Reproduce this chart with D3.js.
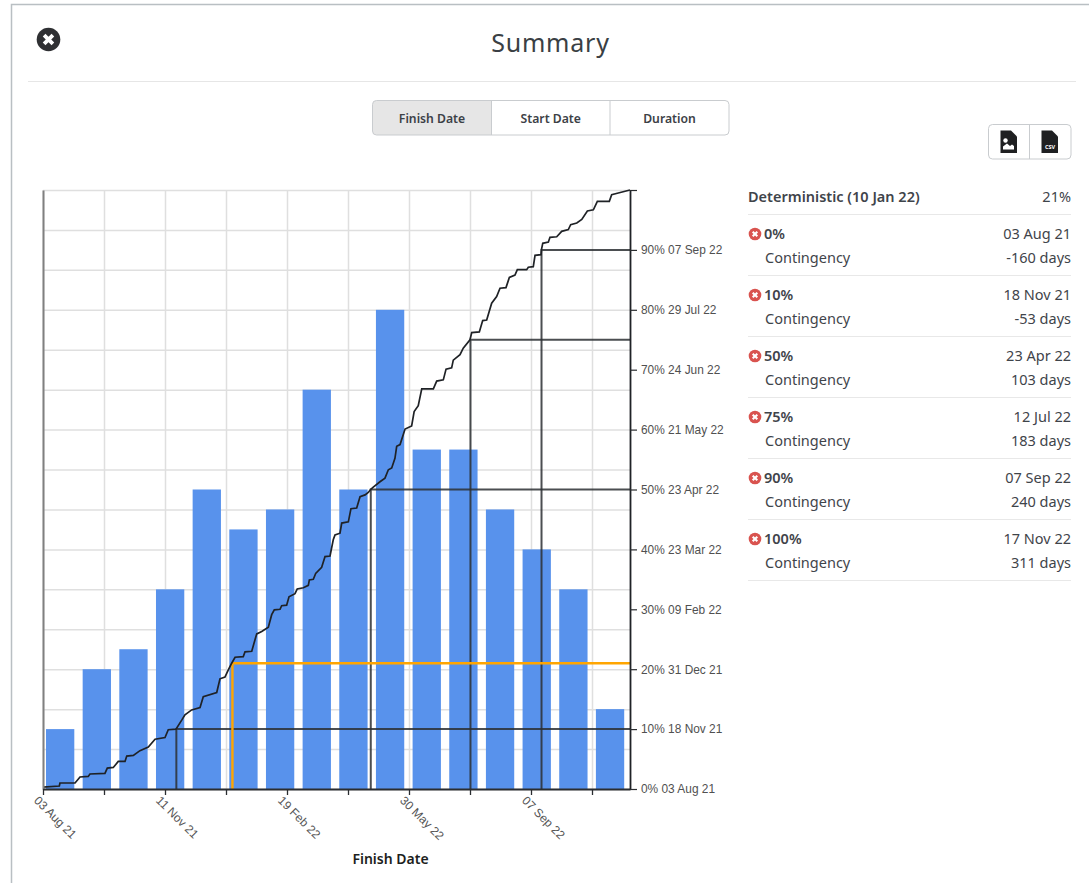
<!DOCTYPE html>
<html><head><meta charset="utf-8">
<script src="https://cdn.jsdelivr.net/npm/d3@7/dist/d3.min.js"></script>
<style>
html,body{margin:0;padding:0;background:#fff}
svg{display:block}
text{font-family:"Noto Sans",sans-serif}
</style></head><body><div id="chart"></div>
<script>
const histValues=[1.5,3,3.5,5,7.5,6.5,7,10,7.5,12,8.5,8.5,7,6,5,2];
const xTickLabels=["03 Aug 21","","11 Nov 21","","19 Feb 22","","30 May 22","","07 Sep 22",""];
const pctTicks=[0,10,20,30,40,50,60,70,80,90,100];
const pctDates=["03 Aug 21","18 Nov 21","31 Dec 21","09 Feb 22","23 Mar 22","23 Apr 22","21 May 22","24 Jun 22","29 Jul 22","07 Sep 22",""];
const totalDays=471;
const cdfDays=[0,13.1,13.6,25.7,29.7,36.3,37.7,49.7,51.6,56.4,60.4,65.8,67.2,72.5,77.8,84.5,89.9,97.9,100.5,106.7,111.3,113.9,119.3,126,128.6,139.4,142,146,148.7,151.4,154.1,160.7,162.1,167.5,170.1,171.5,175.5,180.8,183.5,185.6,190.2,191.5,195.5,197.4,202.2,204,208.9,212.9,213.7,216.9,218.8,223.6,226.3,230.3,232.9,234.3,238.3,239.7,245,247.1,251.7,254.4,258.4,261,262.8,265,270.4,274.4,277.1,279.8,282.4,283.8,286.5,290.5,295.8,297.8,301.1,303.9,313.2,315.9,321.2,323.4,327.9,329.2,334.6,337.2,342.6,344,350.1,352.8,356,360,364,366.7,371.5,374.2,378.7,380.6,388.1,389.4,393.4,394.8,399.6,400,401,405.5,406.8,412.2,416.2,421.5,423.4,428.3,432.3,436.8,441.6,444.8,454.4,456.3,461.6,471];
const cdfPct=[0.3,0.5,1,1,2,2.1,2.5,2.6,3.5,3.6,4.6,4.6,5.5,5.6,6.4,7,8.3,8.6,9.9,10,11.5,12.4,13.2,13.6,15.4,16.1,18.4,18.7,19.9,21,22,22.1,22.9,23,24.9,25.9,26.3,27,29.1,29.9,30,30.6,30.7,32.1,32.6,33.4,33.6,34,34.9,35,36,37,38.8,38.9,41.6,42.4,42.7,44.4,44.6,46.8,46.9,48.8,49.1,49.5,50,50.4,51.3,51.9,53.3,53.6,55.2,57.2,57.5,60.1,60.6,63,64,66.8,66.8,68.1,68.3,70.1,70.3,71.6,72.5,73.6,75,76.2,76.3,78.2,78.3,81.1,82.2,83.6,83.7,85.4,85.8,86.7,86.7,87.1,87.2,89.1,89.2,90.1,91.1,91.3,92.1,92.2,93.1,93.4,94.2,94.5,95.1,96.5,96.7,98.1,98.1,99.2,99.5,100];
const markerPct=[10,50,75,90];
const markerDays=[107,263,343,400];
const deterministicPct=21;
const deterministicDay=152;
const rowPct=["0%","10%","50%","75%","90%","100%"];
const rowDates=["03 Aug 21","18 Nov 21","23 Apr 22","12 Jul 22","07 Sep 22","17 Nov 22"];
const rowCont=["-160 days","-53 days","103 days","183 days","240 days","311 days"];
const tabs=["Finish Date","Start Date","Duration"];

const svg=d3.select("#chart").append("svg").attr("width",1089).attr("height",883);
const L=43,R=630,T=190,B=789;
const ink="#3f444a";

// frame
svg.append("path").attr("d","M11.5 883V4.5H1089").attr("fill","none").attr("stroke","#b9bfc3").attr("stroke-width",1.5);
svg.append("line").attr("x1",28).attr("x2",1076).attr("y1",81.5).attr("y2",81.5).attr("stroke","#e6e6e6").attr("stroke-width",1.2);

// close icon
const cross=(g,cx,cy,s,w)=>g.append("path").attr("d",`M${cx-s} ${cy-s}L${cx+s} ${cy+s}M${cx+s} ${cy-s}L${cx-s} ${cy+s}`).attr("stroke","#fff").attr("stroke-width",w).attr("fill","none");
svg.append("circle").attr("cx",48.5).attr("cy",39.5).attr("r",11.8).attr("fill","#2f3033");
cross(svg,48.5,39.5,4.4,3.8);

svg.append("text").attr("x",550.5).attr("y",52).attr("text-anchor","middle").attr("font-size",25).attr("letter-spacing",0.8).attr("fill","#3a3f44").text("Summary");

// tabs
const tabEdges=[372.5,491.5,610,729];
svg.append("path").attr("d","M491.5 100.5H376.5a4 4 0 0 0-4 4V131a4 4 0 0 0 4 4H491.5Z").attr("fill","#e6e6e6");
svg.append("rect").attr("x",372.5).attr("y",100.5).attr("width",356.5).attr("height",34.5).attr("rx",4).attr("fill","none").attr("stroke","#c9cccf");
tabEdges.slice(1,3).forEach(x=>svg.append("line").attr("x1",x).attr("x2",x).attr("y1",100.5).attr("y2",135).attr("stroke","#c9cccf"));
tabs.forEach((t,i)=>svg.append("text").attr("x",(tabEdges[i]+tabEdges[i+1])/2).attr("y",122.5).attr("text-anchor","middle").attr("font-size",12.2).attr("font-weight",600).attr("fill","#3c4146").text(t));

// export buttons
svg.append("rect").attr("x",988.5).attr("y",124.5).attr("width",82.5).attr("height",34.5).attr("rx",4).attr("fill","#fff").attr("stroke","#c9cccf");
svg.append("line").attr("x1",1029.5).attr("x2",1029.5).attr("y1",124.5).attr("y2",159).attr("stroke","#c9cccf");
const filePath=x=>`M${x} 130.5h10.5l6 6v16.5h-16.5Z`;
svg.append("path").attr("d",filePath(1000.5)).attr("fill","#1f2022");
svg.append("path").attr("d","M1003 149.5h11v-3.5l-2-1.5-2 1.5-3-2.5-4 3Z").attr("fill","#fff");
svg.append("circle").attr("cx",1005.5).attr("cy",140.5).attr("r",2.2).attr("fill","#fff");
svg.append("path").attr("d",filePath(1041.5)).attr("fill","#1f2022");
svg.append("text").attr("x",1050).attr("y",148.5).attr("text-anchor","middle").attr("font-size",5.5).attr("font-weight",700).attr("fill","#fff").text("CSV");

// scales
const xDays=d3.scaleLinear().domain([0,totalDays]).range([L,R]);
const xTick=d3.scaleLinear().domain([0,(R-L)/61]).range([L,R]);
const xBand=d3.scaleBand().domain(d3.range(histValues.length)).range([46,624.2]).paddingInner(0.228);
const yHist=d3.scaleLinear().domain([0,15]).range([B,T]);
const yPct=d3.scaleLinear().domain([0,100]).range([B,T]);

// grid
const gridX=svg.append("g").attr("transform",`translate(0,${B})`).call(d3.axisBottom(xTick).tickValues(d3.range(10)).tickSize(-(B-T)).tickFormat(""));
gridX.select(".domain").remove();
gridX.selectAll("line").attr("stroke","#dfdfdf").attr("stroke-width",1.5);
const gridY=svg.append("g").attr("transform",`translate(${L},0)`).call(d3.axisLeft(yHist).tickValues(d3.range(16)).tickSize(-(R-L)).tickFormat(""));
gridY.select(".domain").remove();
gridY.selectAll("line").attr("stroke","#dfdfdf").attr("stroke-width",1.5);

// bars
svg.append("g").selectAll("rect").data(histValues).join("rect")
 .attr("x",(d,i)=>xBand(i)).attr("width",xBand.bandwidth())
 .attr("y",d=>yHist(d)).attr("height",d=>B-yHist(d)).attr("fill","#5892ec");

// markers
const markers=svg.append("g");
markerPct.forEach((p,i)=>{
 markers.append("path").attr("d",`M${xDays(markerDays[i])} ${B}V${yPct(p)}H${R}`).attr("fill","none").attr("stroke","#2b2f33").attr("stroke-opacity",0.85).attr("stroke-width",2);
});
markers.append("path").attr("d",`M${xDays(deterministicDay)} ${B}V${yPct(deterministicPct)}H${R}`).attr("fill","none").attr("stroke","#ffa500").attr("stroke-width",2.4);

// cdf
const line=d3.line().x(d=>xDays(d[0])).y(d=>yPct(d[1]));
svg.append("path").datum(cdfDays.map((d,i)=>[d,cdfPct[i]])).attr("d",line).attr("fill","none").attr("stroke","#1f2226").attr("stroke-width",1.7);

// axes
const axL=svg.append("g").attr("transform",`translate(${L},0)`).call(d3.axisLeft(yHist).tickValues([]).tickSizeOuter(0));
axL.select(".domain").attr("stroke","#808080").attr("stroke-width",2);
const axB=svg.append("g").attr("transform",`translate(0,${B})`).call(d3.axisBottom(xTick).tickValues(d3.range(10)).tickSize(6).tickSizeOuter(0).tickFormat(i=>xTickLabels[i]));
axB.select(".domain").attr("stroke","#2a2d30").attr("stroke-width",2);
axB.selectAll("line").attr("stroke","#2a2d30").attr("stroke-width",1.3);
axB.selectAll("text").style("font-family","'Liberation Sans',sans-serif").attr("font-size",12).attr("fill","#555")
 .attr("text-anchor","start").attr("transform","translate(-1,3) rotate(45)").attr("dx",0).attr("dy",7).attr("y",6);
const axR=svg.append("g").attr("transform",`translate(${R},0)`).call(d3.axisRight(yPct).tickValues(pctTicks).tickSize(7).tickSizeOuter(0).tickPadding(4).tickFormat((d,i)=>pctDates[i]?`${d}% ${pctDates[i]}`:""));
axR.select(".domain").attr("stroke","#1f2226").attr("stroke-width",1.8);
axR.selectAll("line").attr("stroke","#2a2d30").attr("stroke-width",1.2);
axR.selectAll("text").style("font-family","'Liberation Sans',sans-serif").attr("font-size",11.9).attr("fill","#505050");

svg.append("text").attr("x",390.5).attr("y",864).attr("text-anchor","middle").attr("font-size",14).attr("font-weight",600).attr("fill","#1c1e20").text("Finish Date");

// table
const PL=748,PR=1071;
svg.append("text").attr("x",PL).attr("y",202).attr("font-size",14.5).attr("font-weight",600).attr("fill",ink).text("Deterministic (10 Jan 22)");
svg.append("text").attr("x",PR).attr("y",202).attr("text-anchor","end").attr("font-size",14.5).attr("fill",ink).text(deterministicPct+"%");
svg.append("line").attr("x1",PL).attr("x2",PR).attr("y1",214.5).attr("y2",214.5).attr("stroke","#e8e8e8");
rowPct.forEach((p,i)=>{
 const y=233+i*61;
 svg.append("circle").attr("cx",755).attr("cy",y+1).attr("r",6.3).attr("fill","#d9534f");
 cross(svg,755,y+1,2.3,2.1);
 svg.append("text").attr("x",764).attr("y",y+6).attr("font-size",14.5).attr("font-weight",600).attr("fill",ink).text(p);
 svg.append("text").attr("x",PR).attr("y",y+6).attr("text-anchor","end").attr("font-size",14.5).attr("fill",ink).text(rowDates[i]);
 svg.append("text").attr("x",765).attr("y",y+30).attr("font-size",14.5).attr("fill",ink).text("Contingency");
 svg.append("text").attr("x",PR).attr("y",y+30).attr("text-anchor","end").attr("font-size",14.5).attr("fill",ink).text(rowCont[i]);
 svg.append("line").attr("x1",PL).attr("x2",PR).attr("y1",y+42.5).attr("y2",y+42.5).attr("stroke","#e8e8e8");
});
</script></body></html>
